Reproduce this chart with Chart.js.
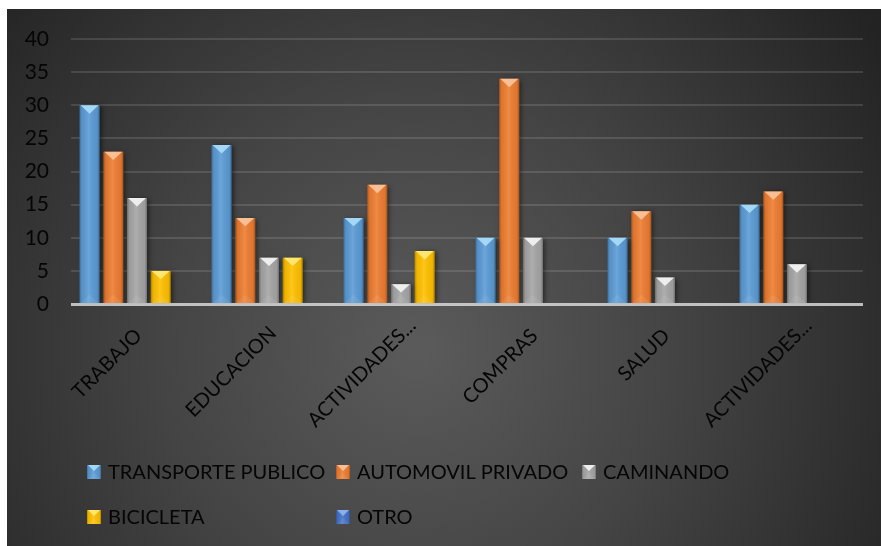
<!DOCTYPE html>
<html>
<head>
<meta charset="utf-8">
<script src="https://cdn.jsdelivr.net/npm/chart.js@4.4.1/dist/chart.umd.min.js"></script>
<style>
  html, body { margin: 0; padding: 0; background: #ffffff; }
  #wrap { position: absolute; left: 7px; top: 9px; width: 874px; height: 537px; }
</style>
</head>
<body>
<div id="wrap"><canvas id="c" width="874" height="537"></canvas></div>
<script>
// Motivos de viaje y modo de transporte
const categories = ['TRABAJO', 'EDUCACION', 'ACTIVIDADES...', 'COMPRAS', 'SALUD', 'ACTIVIDADES...'];
const seriesNames = ['TRANSPORTE PUBLICO', 'AUTOMOVIL PRIVADO', 'CAMINANDO', 'BICICLETA', 'OTRO'];
const transportePublico = [30, 24, 13, 10, 10, 15];
const automovilPrivado  = [23, 13, 18, 34, 14, 17];
const caminando         = [16, 7, 3, 10, 4, 6];
const bicicleta         = [5, 7, 8, 0, 0, 0];
const otro              = [0, 0, 0, 0, 0, 0];
const yTickValues = [0, 5, 10, 15, 20, 25, 30, 35, 40];

const baseColors  = ['#5b9bd5', '#ed7d31', '#a5a5a5', '#ffc000', '#4472c4'];
const bevelColors = ['#a9dcf8', '#fac39c', '#f4f4f4', '#ffe978', '#8fb4ee'];
const seriesValues = [transportePublico, automovilPrivado, caminando, bicicleta, otro];

const FONT = 'Lato, "Open Sans", sans-serif';
const TEXT = '#050505';

// Bevelled box: side shading, top chevron and faint bottom chevron
function bevelBox(ctx, left, top, w, h, bevel) {
  const g = ctx.createLinearGradient(left, 0, left + w, 0);
  g.addColorStop(0, 'rgba(0,0,0,0.28)');
  g.addColorStop(0.12, 'rgba(0,0,0,0.05)');
  g.addColorStop(0.45, 'rgba(255,255,255,0.10)');
  g.addColorStop(0.88, 'rgba(0,0,0,0.05)');
  g.addColorStop(1, 'rgba(0,0,0,0.32)');
  ctx.fillStyle = g;
  ctx.fillRect(left, top, w, h);
  const d = Math.min(w * 0.42, h);
  ctx.beginPath();
  ctx.moveTo(left + 1, top);
  ctx.lineTo(left + w - 1, top);
  ctx.lineTo(left + w / 2, top + d);
  ctx.closePath();
  ctx.fillStyle = bevel;
  ctx.globalAlpha = 0.92;
  ctx.fill();
  ctx.globalAlpha = 1;
  if (h > d * 2) {
    ctx.beginPath();
    ctx.moveTo(left + 1, top + h);
    ctx.lineTo(left + w - 1, top + h);
    ctx.lineTo(left + w / 2, top + h - d);
    ctx.closePath();
    ctx.fillStyle = 'rgba(255,255,255,0.07)';
    ctx.fill();
  }
}

const backdrop = {
  id: 'backdrop',
  beforeDraw(chart) {
    const { ctx, width, height } = chart;
    ctx.save();
    const g = ctx.createRadialGradient(410, 340, 10, 410, 340, 560);
    g.addColorStop(0, '#5a5a5a');
    g.addColorStop(0.45, '#444444');
    g.addColorStop(1, '#232323');
    ctx.fillStyle = g;
    ctx.fillRect(0, 0, width, height);
    ctx.restore();
  },
  beforeDatasetsDraw(chart) {
    const ctx = chart.ctx;
    ctx.save();
    ctx.shadowColor = 'rgba(0,0,0,0.55)';
    ctx.shadowBlur = 5;
    ctx.shadowOffsetX = 2;
    ctx.shadowOffsetY = 1;
  },
  afterDatasetsDraw(chart) {
    const ctx = chart.ctx;
    ctx.restore();
    ctx.save();
    chart.data.datasets.forEach((ds, i) => {
      const meta = chart.getDatasetMeta(i);
      meta.data.forEach(el => {
        const p = el.getProps(['x', 'y', 'base', 'width'], true);
        const h = p.base - p.y;
        if (h < 0.5) return;
        bevelBox(ctx, p.x - p.width / 2, p.y, p.width, h, bevelColors[i]);
      });
    });
    // category axis line
    const y0 = chart.scales.y.getPixelForValue(0);
    const a = chart.chartArea;
    ctx.fillStyle = 'rgba(225,225,225,0.8)';
    ctx.fillRect(a.left, y0 - 1, a.right - a.left, 3);
    ctx.restore();
  },
  afterDraw(chart) {
    const ctx = chart.ctx;
    const xs = chart.scales.x;
    const y0 = chart.scales.y.getPixelForValue(0);
    ctx.save();
    // rotated category labels; long labels sit a little further out
    ctx.font = '20px ' + FONT;
    ctx.fillStyle = TEXT;
    ctx.textAlign = 'right';
    ctx.textBaseline = 'alphabetic';
    chart.data.labels.forEach((lab, i) => {
      const x = xs.getPixelForTick(i);
      const w = ctx.measureText(lab).width;
      const extra = Math.max(0, w - 110) * 0.3;
      ctx.save();
      ctx.translate(x + 6 + extra, y0 + 33 - extra);
      ctx.rotate(-Math.PI / 4);
      ctx.fillText(lab, 0, 0);
      ctx.restore();
    });
    // legend, two rows in fixed columns
    const colX = [80, 329, 575];
    const rowY = [456, 501];
    ctx.font = '20px ' + FONT;
    ctx.textAlign = 'left';
    chart.data.datasets.forEach((ds, i) => {
      const cx = colX[i % 3];
      const ry = rowY[Math.floor(i / 3)];
      ctx.fillStyle = ds.backgroundColor;
      ctx.fillRect(cx, ry, 14, 14);
      bevelBox(ctx, cx, ry, 14, 14, bevelColors[i]);
      ctx.fillStyle = TEXT;
      ctx.fillText(ds.label, cx + 21, ry + 14);
    });
    ctx.restore();
  }
};

new Chart(document.getElementById('c'), {
  type: 'bar',
  data: {
    labels: categories,
    datasets: seriesNames.map((name, i) => ({
      label: name,
      data: seriesValues[i],
      backgroundColor: baseColors[i],
      borderWidth: 0,
      categoryPercentage: 0.898,
      barPercentage: 0.844
    }))
  },
  options: {
    responsive: false,
    animation: false,
    layout: { padding: { left: 0, right: 18, top: 30, bottom: 0 } },
    plugins: { legend: { display: false }, tooltip: { enabled: false } },
    scales: {
      x: {
        grid: { display: false },
        border: { display: false },
        ticks: { display: false },
        afterFit(scale) { scale.height = 242; }
      },
      y: {
        min: 0,
        max: 40,
        afterBuildTicks(scale) { scale.ticks = yTickValues.map(v => ({ value: v })); },
        border: { display: false },
        grid: {
          drawTicks: false,
          lineWidth: 2,
          color: c => (c.tick && c.tick.value === 0) ? 'rgba(0,0,0,0)' : 'rgba(255,255,255,0.12)'
        },
        ticks: { color: TEXT, font: { family: FONT, size: 21 }, padding: 22 },
        afterFit(scale) { scale.width = 64; scale.paddingTop = 0; scale.paddingBottom = 0; }
      }
    }
  },
  plugins: [backdrop]
});
</script>
</body>
</html>
